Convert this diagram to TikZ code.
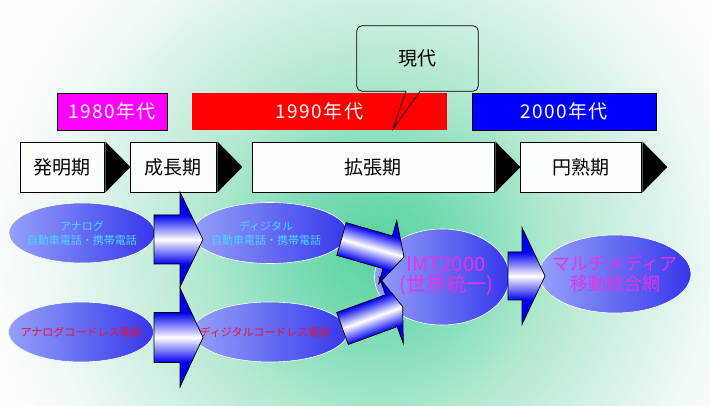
\documentclass[tikz,border=0pt]{standalone}
\usepackage{fontspec}
\setmainfont{Noto Sans CJK JP}
\newfontfamily\spacedfont[LetterSpace=8]{Noto Sans CJK JP}
\usetikzlibrary{shapes.geometric}
\definecolor{magBox}{RGB}{255,0,255}
\definecolor{redBox}{RGB}{255,0,0}
\definecolor{blueBox}{RGB}{0,0,255}
\definecolor{phaseFill}{RGB}{250,255,250}
\definecolor{ellL}{RGB}{150,160,250}
\definecolor{ellR}{RGB}{55,55,235}
\definecolor{arrowDark}{RGB}{0,0,240}
\definecolor{cyanT}{RGB}{70,215,255}
\definecolor{redT}{RGB}{230,20,60}
\definecolor{magT}{RGB}{230,50,230}
% square of half size 500 -> 25bp = 500px, so 1bp = 20px
\pgfdeclareradialshading{bgshade}{\pgfpoint{0bp}{0bp}}{rgb(0bp)=(0.333,0.824,0.608); rgb(4.8bp)=(0.51,0.87,0.725); rgb(9bp)=(0.706,0.914,0.816); rgb(13.8bp)=(0.855,0.949,0.91); rgb(16.8bp)=(0.941,0.976,0.961); rgb(19.8bp)=(0.988,0.996,0.992); rgb(25bp)=(1,1,1); rgb(50bp)=(1,1,1)}
% #1,#2 back centre; #3 angle; #4 body length; #5 body half width; #6 head half width; #7 head length
\newcommand\BlkArrow[7]{%
  \begin{scope}[transform canvas={shift={(#1,#2)},rotate=#3}]
    \fill[arrowDark] (0,-#5) -- (#4,-#5) -- (#4,-#6) -- ({#4+#7},0) -- (#4,#6) -- (#4,#5) -- (0,#5) -- cycle;
    \shade[top color=arrowDark, bottom color=arrowDark, middle color=white]
      (0,-#5) -- ({#4+#7*(1-#5/#6)},-#5) -- ({#4+#7},0) -- ({#4+#7*(1-#5/#6)},#5) -- (0,#5) -- cycle;
    \draw[line width=0.7pt, line join=miter] (0,-#5) -- (#4,-#5) -- (#4,-#6) -- ({#4+#7},0) -- (#4,#6) -- (#4,#5) -- (0,#5) -- cycle;
  \end{scope}}
\begin{document}
\begin{tikzpicture}[x=1pt,y=-1pt,
  phase/.style={draw=black, line width=0.8pt, fill=phaseFill, minimum height=50pt, inner sep=0pt,
    font=\fontsize{19}{21}\selectfont},
  decade/.style={minimum height=37pt, inner sep=0pt, text=white, font=\spacedfont\fontsize{19}{20}\selectfont},
  ell/.style={ellipse, draw=white, line width=0.6pt, left color=ellL, right color=ellR, inner sep=0pt},
  etext/.style={align=center, inner sep=0pt},
  tri/.style={fill=black}]
\useasboundingbox (0,0) rectangle (710,406);
\begin{scope}
  \clip (0,0) rectangle (710,406);
  \shade[shading=bgshade] (-122,-250) rectangle (878,750);
\end{scope}

% decades
\node[decade, fill=magBox, draw=black, line width=0.8pt, minimum width=110pt] (d1) at (112,111.5) {1980年代};
\node[decade, fill=redBox, minimum width=255pt] (d2) at (319.5,111.5) {1990年代};
\node[decade, fill=blueBox, draw=black, line width=0.8pt, minimum width=184pt] (d3) at (564,111.5) {2000年代};

% callout
\node[minimum width=121pt, minimum height=65pt, inner sep=0pt, font=\fontsize{19}{21}\selectfont] (gd) at (417.5,58.5) {現代};
\coordinate (gdtip) at (393,129);
\draw[line width=0.7pt, rounded corners=5pt] ([xshift=2.5pt]gd.south) -- (gd.south east) -- (gd.north east) -- (gd.north west) -- (gd.south west) -- ([xshift=-11.5pt]gd.south);
\draw[line width=0.7pt] ([xshift=-11.5pt]gd.south) -- (gdtip) -- ([xshift=2.5pt]gd.south);

% phases
\node[phase, minimum width=84pt] (p1) at (62,167) {発明期};
\node[phase, minimum width=86pt] (p2) at (173,167) {成長期};
\node[phase, minimum width=242pt] (p3) at (373,167) {拡張期};
\node[phase, minimum width=121pt] (p4) at (580.5,167) {円熟期};
\foreach \p in {p1,p2,p3,p4}
  \fill[tri] ([xshift=1pt]\p.north east) -- ([xshift=1pt]\p.south east) -- ([xshift=26pt]\p.east) -- cycle;

% ellipses
\node[ell, minimum width=146pt, minimum height=60pt] (e1) at (82,233) {};
\node[ell, minimum width=155pt, minimum height=61pt] (e2) at (270,233) {};
\node[ell, minimum width=145pt, minimum height=60pt] (e3) at (81,332) {};
\node[ell, minimum width=155pt, minimum height=60pt] (e4) at (270,332) {};
\node[ell, minimum width=135pt, minimum height=96pt] (e5) at (442,277) {};
\node[ell, minimum width=152pt, minimum height=78pt] (e6) at (615,274) {};
\node[etext, text=cyanT, font=\fontsize{11}{14}\selectfont] (e1t) at (e1.center) {アナログ\\自動車電話・携帯電話};
\node[etext, text=cyanT, font=\fontsize{11}{14}\selectfont] (e2t) at ([xshift=-4pt]e2.center) {ディジタル\\自動車電話・携帯電話};
\node[etext, text=redT, font=\fontsize{11}{14}\selectfont] (e3t) at (e3.center) {アナログコードレス電話};
\node[etext, text=redT, font=\fontsize{11}{14}\selectfont] (e4t) at ([xshift=-5pt]e4.center) {ディジタルコードレス電話};
\node[etext, text=magT, font=\fontsize{20}{20}\selectfont] (e5t) at ([xshift=4pt,yshift=1pt]e5.center) {IMT2000\\(世界統一)};
\node[etext, text=magT, font=\fontsize{18}{20}\selectfont] (e6t) at (e6.center) {マルチメディア\\移動統合網};

% block arrows
\BlkArrow{154}{239.5}{0}{26}{24.5}{47.5}{23}
\BlkArrow{154}{337.5}{0}{26}{25}{49.5}{23}
\BlkArrow{341.5}{239}{-16}{48}{17}{33}{17}
\BlkArrow{342.5}{328.5}{20}{52}{17}{35}{12}
\BlkArrow{508}{276}{0}{14}{24}{48.5}{23}
\end{tikzpicture}
\end{document}
